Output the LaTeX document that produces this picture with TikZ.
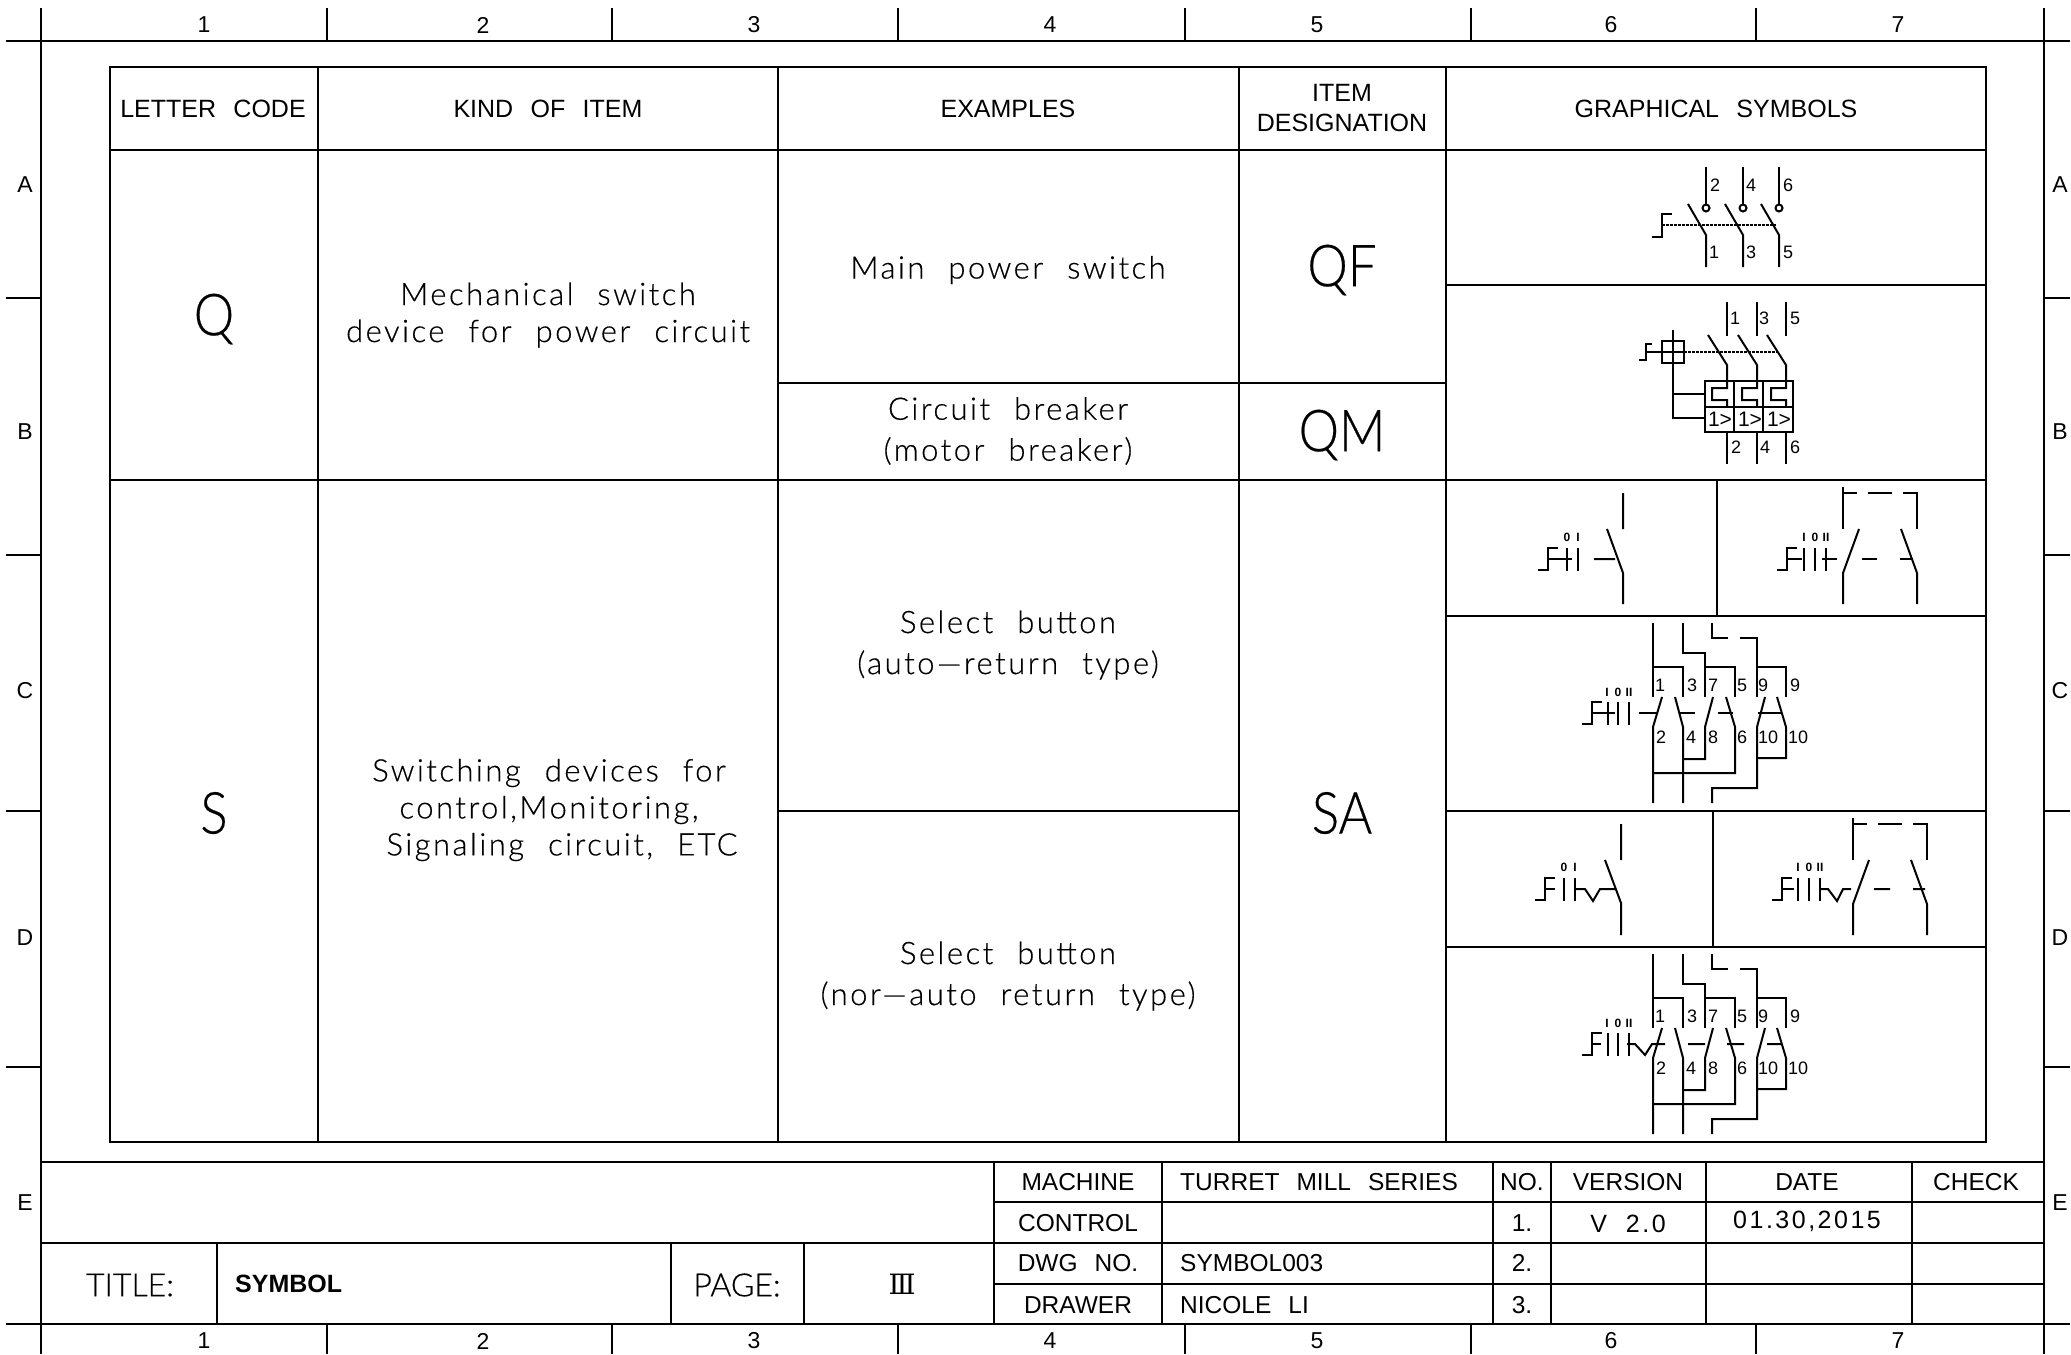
\documentclass[tikz,border=0pt]{standalone}
\usepackage{fontspec}
\setmainfont{Liberation Sans}
\newfontfamily\headfont[WordSpace=2.5]{Liberation Sans}
\newfontfamily\valuefont[LetterSpace=10,WordSpace=2]{Liberation Sans}
\newfontfamily\itemfont[LetterSpace=8,WordSpace=2.2,FakeBold=0.4]{Lato Light}
\newfontfamily\thinfont[FakeBold=0.4]{Lato Light}
\newfontfamily\bigfont[FakeStretch=0.88,FakeBold=0.4]{Lato Light}
\newfontfamily\romanfont{DejaVu Serif}
\tikzset{
  grid/.style = {draw,line width=2pt},
  wire/.style = {draw,line width=2pt},
  link/.style = {draw,line width=2pt,dash pattern=on 3pt off 1pt},
  marktext/.style = {inner sep=0pt,font=\headfont\fontsize{23}{23}\selectfont},
  headtext/.style = {inner sep=0pt,align=center,font=\headfont\fontsize{24.5}{30}\selectfont},
  tablehead/.style = {inner sep=0pt,align=center,font=\headfont\fontsize{25}{30}\selectfont},
  valuetext/.style = {inner sep=0pt,font=\valuefont\fontsize{25}{30}\selectfont},
  itemtext/.style = {inner sep=0pt,align=center,font=\itemfont\fontsize{31}{37}\selectfont},
  bigtext/.style = {inner sep=0pt,font=\bigfont\fontsize{58}{58}\selectfont},
  blocktext/.style = {inner sep=0pt,font=\thinfont\fontsize{32}{32}\selectfont},
  tagtext/.style = {inner sep=0pt,font=\headfont\fontsize{18}{18}\selectfont},
  posntext/.style = {inner sep=0pt,font=\headfont\bfseries\fontsize{12}{12}\selectfont}
}
\newcommand{\handleat}[3]{\draw[wire,shift={(#1,#2)}] (-10,11) -| (0,-11) -- (10,-11) (0,0) -- (#3,0);}
\newcommand{\barsat}[2]{\foreach \bx in {#2} \draw[wire] (\bx,#1-11) -- (\bx,#1+12);}
\newcommand{\posnat}[2]{\foreach \px/\ptxt in {#2} \node[posntext] (posn\px) at (\px,#1) {\ptxt};}
\newcommand{\twoway}{
  \draw[wire] (1843,529) -- +(0,-42) (1843,493) -- +(14,0) (1868,493) -- +(24,0) (1903,493) -- (1917,493) -- (1917,529);
  \draw[wire] (1859,529) -- (1843,573) -- (1843,604);
  \draw[wire] (1901,529) -- (1917,573) -- (1917,604);
}
\newcommand{\contactbank}{
  \draw[wire] (1653,623) -- (1653,697) (1653,667) -- (1683,667) -- (1683,697);
  \draw[wire] (1683,623) -- (1683,653) -- (1705,653) -- (1705,697) (1705,667) -- (1735,667) -- (1735,697);
  \draw[wire] (1712,623) -- (1712,638) -- (1728,638) (1740,638) -- (1757,638) -- (1757,697) (1757,667) -- (1786,667) -- (1786,697);
  \draw[wire] (1662,697) -- (1653,727) -- (1653,803);
  \draw[wire] (1675,697) -- (1683,727) -- (1683,803);
  \draw[wire] (1713,697) -- (1705,727) -- (1705,759) -- (1683,759);
  \draw[wire] (1726,697) -- (1735,727) -- (1735,773) -- (1653,773);
  \draw[wire] (1765,697) -- (1757,727) -- (1757,788) -- (1712,788) -- (1712,803);
  \draw[wire] (1777,697) -- (1786,727) -- (1786,758) -- (1757,758);
  \foreach \tx/\ty/\tt in {1660/685/1,1692/685/3,1713/685/7,1742/685/5,1763/685/9,1795/685/9,1661/737/2,1691/737/4,1713/737/8,1742/737/6,1768/737/10,1798/737/10}
    \node[tagtext] (tag\tx\ty) at (\tx,\ty) {\tt};
}

\begin{document}
\begin{tikzpicture}[x=1pt,y=-1pt]
  \useasboundingbox (0,0) rectangle (2071,1354);

  \draw[grid] (6,41) -- (2070,41) (6,1324) -- (2070,1324);
  \draw[grid] (41,8) -- (41,1354) (2044,8) -- (2044,1354);
  \foreach \cx in {327,612,898,1185,1471,1756} \draw[grid] (\cx,8) -- (\cx,41) (\cx,1324) -- (\cx,1354);
  \foreach \ry in {298,555,811,1067} \draw[grid] (6,\ry) -- (41,\ry) (2044,\ry) -- (2070,\ry);
  \foreach \cx/\ctxt in {204/1,483/2,754/3,1050/4,1317/5,1611/6,1898/7} {
    \node[marktext] (top\ctxt) at (\cx,25) {\ctxt};
    \node[marktext] (bot\ctxt) at (\cx,1341) {\ctxt};
  }
  \foreach \ry/\rtxt in {185/A,432/B,691/C,938/D,1203/E} {
    \node[marktext] (left\rtxt) at (25,\ry) {\rtxt};
    \node[marktext] (right\rtxt) at (2060,\ry) {\rtxt};
  }

  \draw[grid] (110,67) rectangle (1986,1142);
  \draw[grid] (110,150) -- (1986,150) (110,480) -- (1986,480);
  \draw[grid] (1446,285) -- (1986,285) (778,383) -- (1446,383) (1446,616) -- (1986,616) (778,811) -- (1239,811) (1446,811) -- (1986,811) (1446,947) -- (1986,947);
  \foreach \cx in {318,778,1239,1446} \draw[grid] (\cx,67) -- (\cx,1142);
  \draw[grid] (1717,480) -- (1717,616) (1713,811) -- (1713,947);

  \node[tablehead] (lettercode) at (213,109) {LETTER CODE};
  \node[tablehead] (kinditem) at (548,109) {KIND OF ITEM};
  \node[tablehead] (examples) at (1008,109) {EXAMPLES};
  \node[tablehead] (itemdesig) at (1342,108) {ITEM\\DESIGNATION};
  \node[tablehead] (graphsym) at (1716,109) {GRAPHICAL SYMBOLS};

  \node[bigtext] (codeq) at (214,319) {Q};
  \node[bigtext] (codes) at (214,813) {S};
  \node[bigtext] (desqf) at (1342,270) {QF};
  \node[bigtext] (desqm) at (1342,435) {QM};
  \node[bigtext] (dessa) at (1342,813) {SA};

  \node[itemtext] (kindq) at (548,315) {Mechanical switch\\device for power circuit};
  \node[itemtext] (kinds) at (549,810) {Switching devices for\\control,Monitoring,\\\hspace{26pt}Signaling circuit, ETC};
  \node[itemtext] (exmain) at (1008,270) {Main power switch};
  \node[itemtext] (exbreak) at (1008,431) {Circuit breaker\\[4pt](motor breaker)};
  \node[itemtext] (exauto) at (1008,645) {Select button\\[4pt](auto—return type)};
  \node[itemtext] (exnor) at (1008,976) {Select button\\[4pt](nor—auto return type)};

  \draw[grid] (41,1162) -- (2044,1162) (41,1243) -- (2044,1243) (994,1202) -- (2044,1202) (994,1284) -- (2044,1284);
  \foreach \cx in {994,1162,1493,1551,1706,1912} \draw[grid] (\cx,1162) -- (\cx,1324);
  \foreach \cx in {217,671,804} \draw[grid] (\cx,1243) -- (\cx,1324);

  \foreach \ty/\ttxt in {1182/MACHINE,1223/CONTROL,1263/DWG NO.,1305/DRAWER}
    \node[headtext] (lab\ty) at (1078,\ty) {\ttxt};
  \foreach \ty/\ttxt in {1182/TURRET MILL SERIES,1263/SYMBOL003,1305/NICOLE LI}
    \node[headtext,anchor=west] (val\ty) at (1180,\ty) {\ttxt};
  \foreach \ty/\ttxt in {1182/NO.,1223/1.,1263/2.,1305/3.}
    \node[headtext] (rev\ty) at (1522,\ty) {\ttxt};
  \node[headtext] (version) at (1628,1182) {VERSION};
  \node[valuetext] (verval) at (1628,1224) {V 2.0};
  \node[headtext] (date) at (1807,1182) {DATE};
  \node[valuetext] (dateval) at (1807,1221) {01.30,2015};
  \node[headtext] (check) at (1976,1182) {CHECK};
  \node[blocktext] (title) at (130,1285) {TITLE:};
  \node[headtext,anchor=west,font=\headfont\bfseries\fontsize{25}{30}\selectfont] (titleval) at (235,1284) {SYMBOL};
  \node[blocktext] (page) at (737,1285) {PAGE:};
  \node[headtext,font=\romanfont\fontsize{28}{30}\selectfont] (pageval) at (902,1284) {Ⅲ};

  \foreach \wx in {1706,1743,1779} {
    \draw[wire] (\wx,167) -- (\wx,205);
    \draw[wire] (\wx,208) circle (3.5);
    \draw[wire] (\wx-18,204) -- (\wx,235) -- (\wx,267);
  }
  \draw[link] (1662,225) -- (1776,225);
  \draw[wire] (1652,237) -- (1662,237) -- (1662,214) -- (1672,214);
  \foreach \tx/\ty/\tt in {1715/185/2,1751/185/4,1788/185/6,1714/252/1,1751/252/3,1788/252/5}
    \node[tagtext] (tag\tx\ty) at (\tx,\ty) {\tt};

  \foreach \wx in {1727,1757,1786} {
    \draw[wire] (\wx,302) -- (\wx,336);
    \draw[wire] (\wx-19,335) -- (\wx,365) -- (\wx,388) -- (\wx-15,388) -- (\wx-15,400) -- (\wx,400) -- (\wx,407);
    \draw[wire] (\wx,432) -- (\wx,464);
    \node[tagtext,font=\headfont\fontsize{21}{21}\selectfont] (trip\wx) at (\wx-7,419) {1>};
  }
  \draw[wire] (1705,381) rectangle (1793,432) (1705,407) -- (1793,407) (1734,381) -- (1734,432) (1763,381) -- (1763,432);
  \draw[wire] (1662,341) rectangle (1684,363) (1673,330) -- (1673,418) -- (1705,418) (1673,394) -- (1705,394);
  \draw[wire] (1639,360) -- (1646,360) -- (1646,344) -- (1652,344) (1646,352) -- (1684,352);
  \draw[link] (1684,352) -- (1777,352);
  \foreach \tx/\ty/\tt in {1735/318/1,1764/318/3,1795/318/5,1736/447/2,1765/447/4,1795/447/6}
    \node[tagtext] (tag\tx\ty) at (\tx,\ty) {\tt};

  \draw[wire] (1623,493) -- (1623,529) (1607,529) -- (1623,573) -- (1623,604) (1594,559) -- (1615,559);
  \handleat{1548}{559}{24}
  \barsat{559}{1567,1578}
  \posnat{537}{1567/0,1578/I}

  \twoway
  \handleat{1787}{559}{15}
  \barsat{559}{1804,1815,1826}
  \posnat{537}{1804/I,1815/0,1826/II}
  \draw[wire] (1822,559) -- (1837,559) (1862,559) -- (1877,559) (1900,559) -- (1913,559);

  \contactbank
  \handleat{1592}{713}{23}
  \barsat{713}{1608,1618,1629}
  \posnat{692}{1607/I,1618/0,1629/II}
  \draw[wire] (1639,713) -- (1657,713) (1679,713) -- (1695,713) (1718,713) -- (1733,713) (1758,713) -- (1782,713);

  \draw[wire] (1621,824) -- (1621,860) (1605,860) -- (1621,903) -- (1621,935);
  \handleat{1545}{889}{10}
  \barsat{889}{1564,1575}
  \posnat{867}{1564/0,1575/I}
  \draw[wire] (1575,889) -- (1585,889) -- (1593,901) -- (1600,889) -- (1615,889);

  \begin{scope}[shift={(10,331)}]
    \twoway
  \end{scope}
  \handleat{1782}{889}{12}
  \barsat{889}{1798,1809,1820}
  \posnat{867}{1798/I,1809/0,1820/II}
  \draw[wire] (1820,889) -- (1828,889) -- (1837,901) -- (1843,889) -- (1851,889) (1874,889) -- (1890,889) (1913,889) -- (1925,889);

  \begin{scope}[shift={(0,331)}]
    \contactbank
    \handleat{1592}{713}{9}
    \barsat{713}{1608,1618,1629}
    \posnat{692}{1607/I,1618/0,1629/II}
    \draw[wire] (1627,713) -- (1635,713) -- (1645,724) -- (1652,713) -- (1665,713) (1688,713) -- (1705,713) (1727,713) -- (1744,713) (1767,713) -- (1782,713);
  \end{scope}
\end{tikzpicture}
\end{document}
